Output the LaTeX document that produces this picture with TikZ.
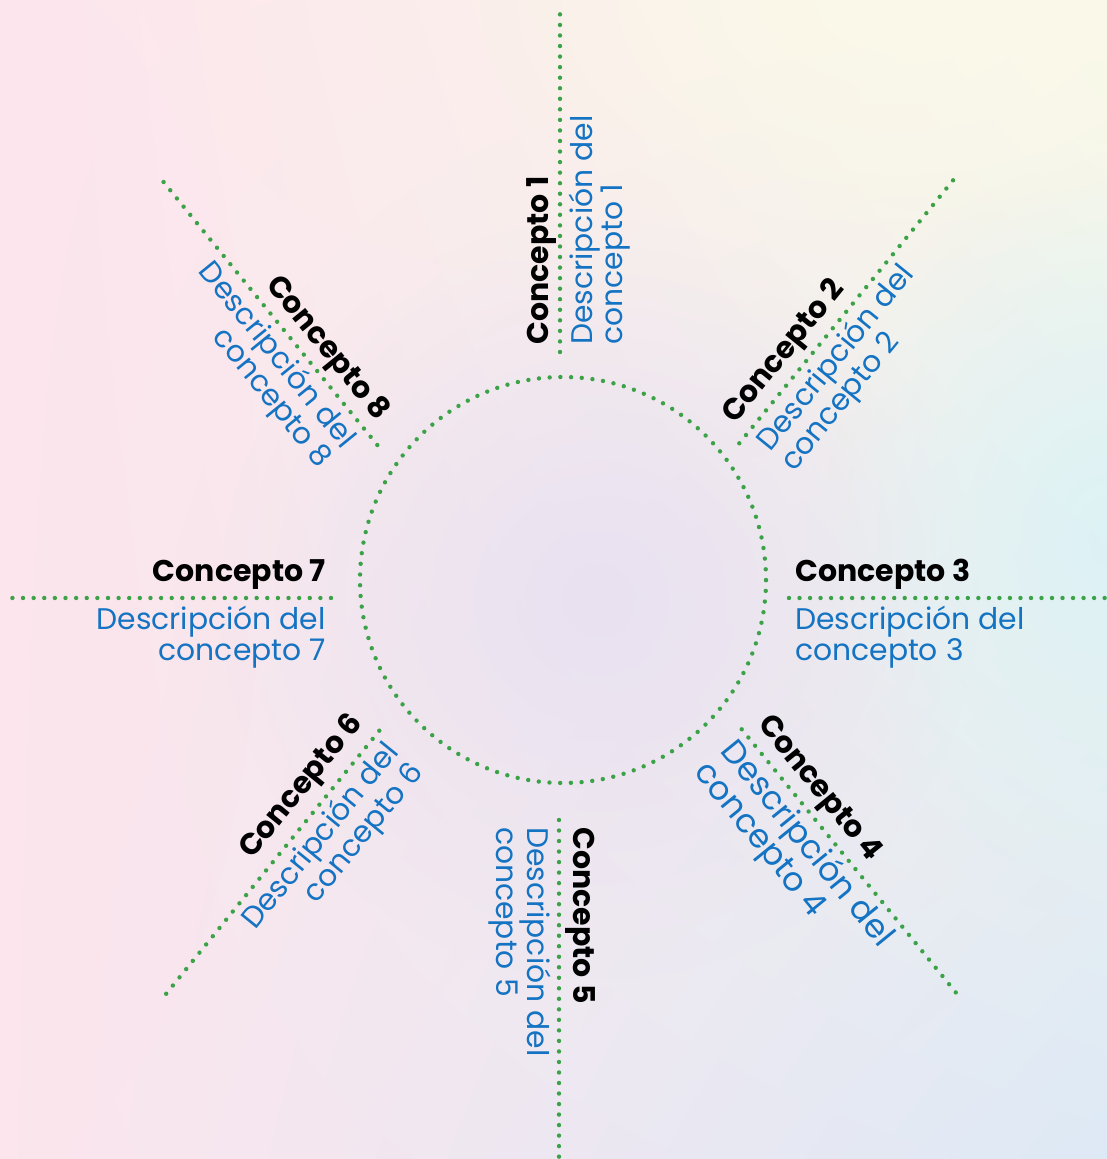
\documentclass[tikz,border=0pt]{standalone}
\usepackage{fontspec}
\setmainfont{Poppins}
\usetikzlibrary{fadings,shadings}
\tikzfading[name=softfade, inner color=transparent!0, outer color=transparent!100]
\definecolor{dotgreen}{RGB}{60,162,72}
\definecolor{descblue}{RGB}{20,115,194}
\definecolor{bgpink}{RGB}{252,229,237}
\definecolor{bgyellow}{RGB}{250,249,233}
\definecolor{bgblue}{RGB}{221,233,245}
\definecolor{bgcyan}{RGB}{221,242,245}
\definecolor{bglav}{RGB}{233,225,241}
\begin{document}
\begin{tikzpicture}[x=1pt,y=1pt,
  dotline/.style={draw=dotgreen, line width=4.4pt, line cap=round},
  ctitle/.style={font=\fontsize{30}{30}\selectfont\bfseries, text=black, inner sep=0pt},
  cdesc/.style={font=\fontsize{29.8}{30}\selectfont, text=descblue, inner sep=0pt},
  cdescbig/.style={font=\fontsize{33}{34}\selectfont, text=descblue, inner sep=0pt}]
\useasboundingbox (0,0) rectangle (1107,1159);
% background
\shade[upper left=bgpink, upper right=bgyellow, lower left=bgpink, lower right=bgblue] (0,0) rectangle (1107,1159);
\fill[bglav, path fading=softfade] (600,560) ellipse (380 and 380);
\fill[bgcyan, path fading=softfade] (1107,620) ellipse (300 and 380);
\fill[bgyellow, path fading=softfade] (900,1159) ellipse (420 and 260);
\fill[bgpink, path fading=softfade] (0,600) ellipse (260 and 600);
% hub circle
\node[circle, minimum size=406pt, inner sep=0pt, draw=dotgreen, line width=4.4pt, line cap=round, dash pattern=on 0pt off 10.718pt] (hub) at (563,579) {};
% ray end points
\coordinate (a1) at (560,807);   \coordinate (b1) at (560,1145);
\coordinate (a2) at (739.3,715.7); \coordinate (b2) at (953.3,979);
\coordinate (a3) at (789,561);   \coordinate (b3) at (1105,561);
\coordinate (a4) at (741.7,429.7); \coordinate (b4) at (956,166.3);
\coordinate (a5) at (559,339);   \coordinate (b5) at (559,2);
\coordinate (a6) at (379.3,428.3); \coordinate (b6) at (166,165);
\coordinate (a7) at (331,561);   \coordinate (b7) at (12,561);
\coordinate (a8) at (377.3,714); \coordinate (b8) at (163.3,977.3);
\foreach \i/\g in {1/10.55, 2/10.59, 3/10.52, 4/10.60, 5/10.52, 6/10.58, 7/10.62, 8/10.59}
  { \draw[dotline, dash pattern=on 0pt off \g pt] (a\i) -- (b\i); }
% texts
\begin{scope}[shift={(a1)}, rotate=90, transform shape]
  \node[ctitle, anchor=base west] (t1) at (7,12) {Concepto 1};
  \node[cdesc, anchor=base west] (d1) at (7,-32) {\begin{tabular}[t]{@{}l@{}}Descripción del\\concepto 1\end{tabular}};
\end{scope}
\begin{scope}[shift={(a2)}, rotate=50.9, transform shape]
  \node[ctitle, anchor=base west] (t2) at (12,15) {Concepto 2};
  \node[cdesc, anchor=base west] (d2) at (12,-30) {\begin{tabular}[t]{@{}l@{}}Descripción del\\concepto 2\end{tabular}};
\end{scope}
\begin{scope}[shift={(a3)}, transform shape]
  \node[ctitle, anchor=base west] (t3) at (6,16) {Concepto 3};
  \node[cdesc, anchor=base west] (d3) at (6,-32) {\begin{tabular}[t]{@{}l@{}}Descripción del\\concepto 3\end{tabular}};
\end{scope}
\begin{scope}[shift={(a4)}, rotate=-50.9, transform shape]
  \node[ctitle, anchor=base west] (t4) at (6,15) {Concepto 4};
  \node[cdescbig, anchor=base west] (d4) at (3,-31) {\begin{tabular}[t]{@{}l@{}}Descripción del\\concepto 4\end{tabular}};
\end{scope}
\begin{scope}[shift={(a5)}, rotate=-90, transform shape]
  \node[ctitle, anchor=base west] (t5) at (7,14) {Concepto 5};
  \node[cdesc, anchor=base west] (d5) at (7,-32) {\begin{tabular}[t]{@{}l@{}}Descripción del\\concepto 5\end{tabular}};
\end{scope}
\begin{scope}[shift={(a6)}, rotate=50.9, transform shape]
  \node[ctitle, anchor=base east] (t6) at (-4,17) {Concepto 6};
  \node[cdesc, anchor=base east] (d6) at (-4,-30) {\begin{tabular}[t]{@{}r@{}}Descripción del\\concepto 6\end{tabular}};
\end{scope}
\begin{scope}[shift={(a7)}, transform shape]
  \node[ctitle, anchor=base east] (t7) at (-5,16) {Concepto 7};
  \node[cdesc, anchor=base east] (d7) at (-5,-32) {\begin{tabular}[t]{@{}r@{}}Descripción del\\concepto 7\end{tabular}};
\end{scope}
\begin{scope}[shift={(a8)}, rotate=-50.9, transform shape]
  \node[ctitle, anchor=base east] (t8) at (-18,14) {Concepto 8};
  \node[cdesc, anchor=base east] (d8) at (-18,-30) {\begin{tabular}[t]{@{}r@{}}Descripción del\\concepto 8\end{tabular}};
\end{scope}
\end{tikzpicture}
\end{document}
